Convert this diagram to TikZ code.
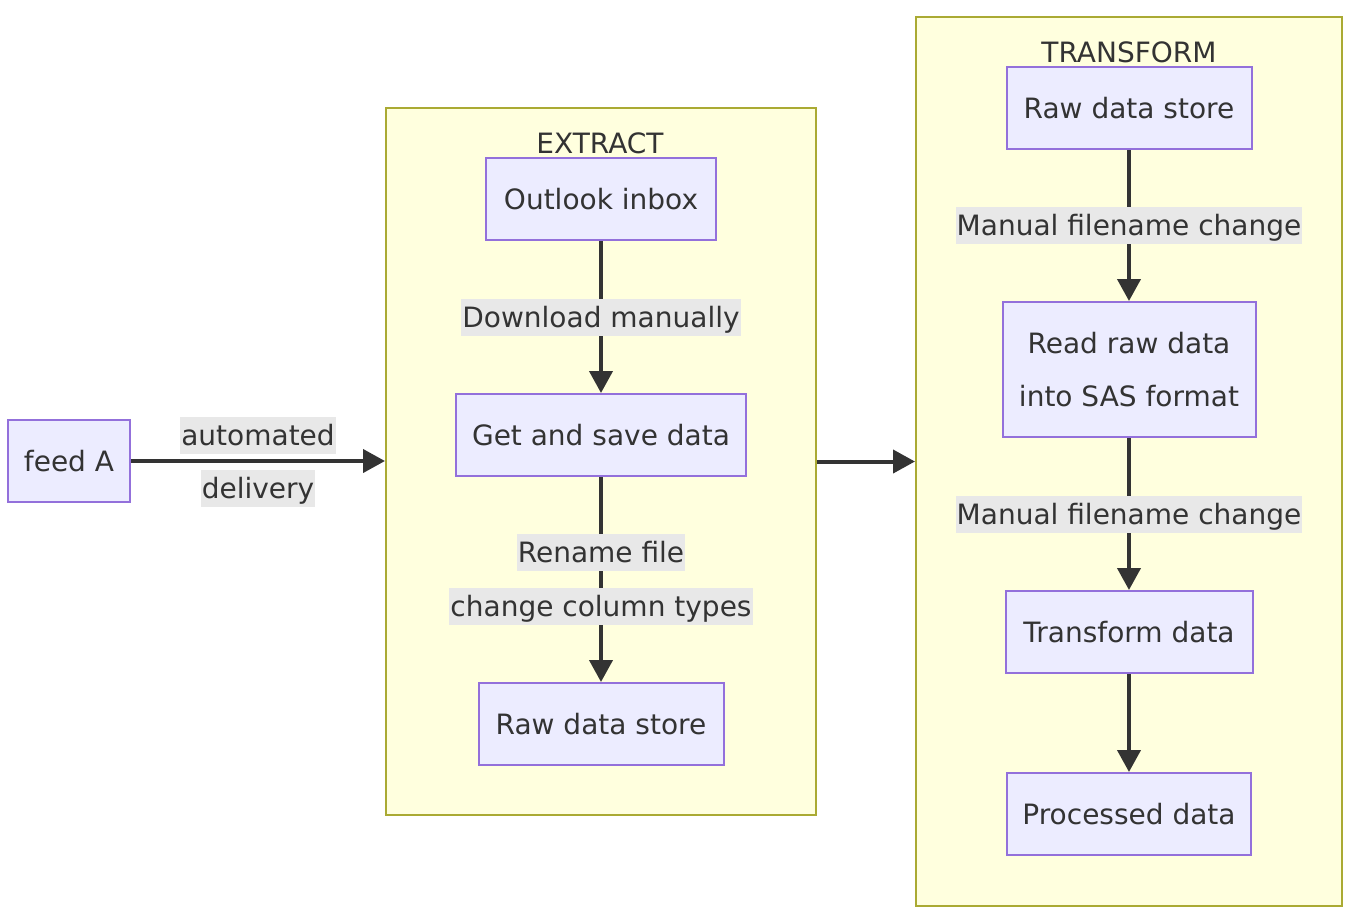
\documentclass[tikz,border=0pt]{standalone}
\usepackage{fontspec}
\setmainfont{DejaVu Sans}
\usetikzlibrary{arrows.meta}
\definecolor{boxfill}{HTML}{ECECFF}
\definecolor{boxline}{HTML}{9370DB}
\definecolor{grpfill}{HTML}{FFFFDE}
\definecolor{grpline}{HTML}{AAAA33}
\definecolor{ink}{HTML}{333333}
\definecolor{lblfill}{HTML}{E8E8E8}
\begin{document}
\begin{tikzpicture}[x=0.5pt,y=-0.5pt,
  every node/.style={text=ink,font=\fontsize{14}{26.5}\selectfont},
  stepbox/.style={draw=boxline,fill=boxfill,line width=1pt,minimum height=41pt,align=center},
  group/.style={draw=grpline,fill=grpfill,line width=1pt,inner sep=0pt},
  lbl/.style={fill=lblfill,inner xsep=0.5pt,inner ysep=2.25pt,text height=12pt,text depth=2pt},
  flow/.style={draw=ink,line width=2pt,-{Triangle[length=11pt,width=11.5pt]}}]
\useasboundingbox (0,0) rectangle (1356,918);
\node[group,minimum width=215pt,minimum height=353.5pt] (extract) at (601,461.5) {};
\node (extract-title) at (600,143) {EXTRACT};
\node[group,minimum width=213pt,minimum height=444.5pt] (transform) at (1129,461.5) {};
\node (transform-title) at (1129,52) {TRANSFORM};
\node[stepbox,minimum width=61pt] (feed) at (69,461) {feed A};
\node[stepbox,minimum width=115pt] (inbox) at (601,199) {Outlook inbox};
\node[stepbox,minimum width=145pt] (get-save) at (601,435) {Get and save data};
\node[stepbox,minimum width=122.5pt] (raw-e) at (601,724) {Raw data store};
\node[stepbox,minimum width=122.5pt] (raw-t) at (1129,108) {Raw data store};
\node[stepbox,minimum width=126.5pt,minimum height=67.5pt] (read-sas) at (1129,369.5) {Read raw data\\into SAS format};
\node[stepbox,minimum width=123.5pt] (transform-data) at (1129,632) {Transform data};
\node[stepbox,minimum width=122pt] (processed) at (1129,814) {Processed data};
\draw[flow] (feed) -- node[lbl,yshift=13pt] {automated} node[lbl,yshift=-13.5pt] {delivery} (feed -| extract.west);
\draw[flow] (extract) -- (transform);
\draw[flow] (inbox) -- node[lbl] {Download manually} (get-save);
\draw[flow] (get-save) -- node[lbl,yshift=13.5pt] {Rename file} node[lbl,yshift=-13.5pt] {change column types} (raw-e);
\draw[flow] (raw-t) -- node[lbl] {Manual filename change} (read-sas);
\draw[flow] (read-sas) -- node[lbl] {Manual filename change} (transform-data);
\draw[flow] (transform-data) -- (processed);
\end{tikzpicture}
\end{document}
